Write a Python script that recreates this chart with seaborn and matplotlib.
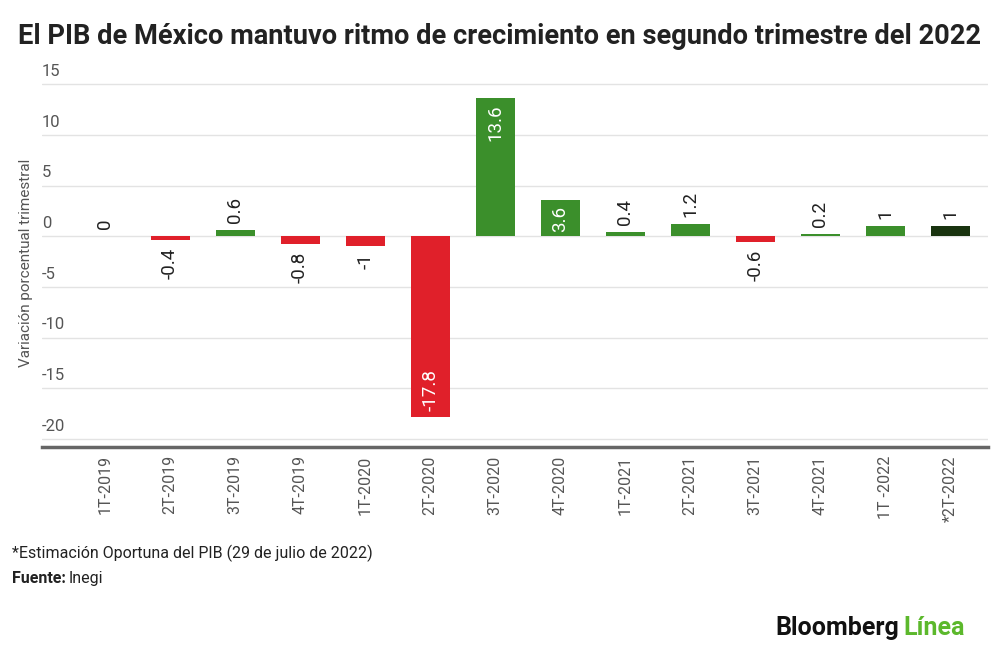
import matplotlib
matplotlib.use("Agg")
import matplotlib.pyplot as plt
import matplotlib.transforms as mtransforms
import seaborn as sns
import pandas as pd

categories = ["1T-2019", "2T-2019", "3T-2019", "4T-2019", "1T-2020", "2T-2020", "3T-2020",
              "4T-2020", "1T-2021", "2T-2021", "3T-2021", "4T-2021", "1T -2022", "*2T-2022"]
values = [0, -0.4, 0.6, -0.8, -1, -17.8, 13.6, 3.6, 0.4, 1.2, -0.6, 0.2, 1, 1]
labels = ["0", "-0.4", "0.6", "-0.8", "-1", "-17.8", "13.6", "3.6", "0.4", "1.2", "-0.6", "0.2", "1", "1"]
kind = ["pos" if v >= 0 else "neg" for v in values]
kind[-1] = "est"
yticks = [15, 10, 5, 0, -5, -10, -15, -20]

palette = {"pos": "#3b8f2b", "neg": "#e0202a", "est": "#19330f"}

sns.set_theme(style="white")
plt.rcParams['font.family'] = ['Roboto', 'DejaVu Sans']

df = pd.DataFrame({"cat": categories, "val": values, "kind": kind})

fig = plt.figure(figsize=(10, 6.59), dpi=100)
ax = fig.add_axes([0.042, 0.3217, 0.946, 0.5583])

sns.barplot(data=df, x="cat", y="val", hue="kind", palette=palette, dodge=False,
            width=0.6, legend=False, ax=ax, saturation=1, edgecolor="none")

ax.set_xlim(-0.97, 13.58)
ax.set_ylim(-20.8, 15.5)

for t in yticks:
    ax.axhline(t, color="#e3e3e3", lw=1, zorder=0)
ax.set_yticks([])
blend = mtransforms.blended_transform_factory(ax.transAxes, ax.transData)
for t in yticks:
    ax.text(0.0, t + 0.5, str(t), transform=blend, ha="left", va="bottom",
            fontsize=12, color="#555555")

for s in ["top", "right", "left"]:
    ax.spines[s].set_visible(False)
ax.spines["bottom"].set_color("#666666")
ax.spines["bottom"].set_linewidth(2.5)

ax.set_xlabel("")
ax.set_ylabel("Variación porcentual trimestral", fontsize=11, color="#555555")
ax.yaxis.set_label_coords(-0.009, 0.5)
ax.tick_params(axis="x", length=0, pad=6, labelsize=11.5, labelcolor="#555555")
for lab in ax.get_xticklabels():
    lab.set_rotation(90)
    lab.set_va("top")

for i, (v, l) in enumerate(zip(values, labels)):
    if abs(v) > 3:
        y = v - 0.6 if v > 0 else v + 0.6
        ax.text(i, y, l, rotation=90, ha="center", va="top" if v > 0 else "bottom",
                fontsize=13.5, color="white")
    else:
        if v >= 0:
            ax.text(i, v + 0.7, l, rotation=90, ha="center", va="bottom", fontsize=13.5, color="#222222")
        else:
            ax.text(i, v - 0.7, l, rotation=90, ha="center", va="top", fontsize=13.5, color="#222222")

fig.text(0.5, 0.945, "El PIB de México mantuvo ritmo de crecimiento en segundo trimestre del 2022",
         ha="center", va="center", fontsize=19.6, fontweight="bold", color="#222222")

fig.text(0.012, 0.16, "*Estimación Oportuna del PIB (29 de julio de 2022)", ha="left", va="center",
         fontsize=11.5, color="#222222")
t1 = fig.text(0.012, 0.122, "Fuente:", ha="left", va="center", fontsize=11.5, fontweight="bold", color="#222222")
fig.canvas.draw()
bb = t1.get_window_extent()
fig.text(bb.x1 / 1000 + 0.003, 0.122, "Inegi", ha="left", va="center", fontsize=11.5, color="#222222")

t2 = fig.text(0.775, 0.047, "Bloomberg", ha="left", va="center", fontsize=18, fontweight="bold",
              color="#111111")
fig.canvas.draw()
bb2 = t2.get_window_extent()
fig.text(bb2.x1 / 1000 + 0.005, 0.047, "Línea", ha="left", va="center", fontsize=18,
         fontweight="bold", color="#5cb82c")

fig.savefig("out.png", dpi=100)
